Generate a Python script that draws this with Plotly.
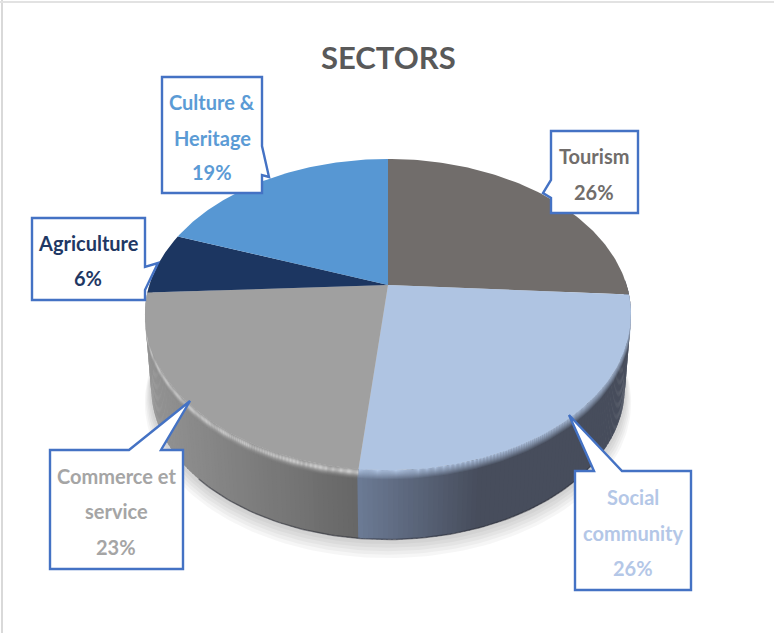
import numpy as np
import plotly.graph_objects as go

# Data
categories = ["Tourism", "Social community", "Commerce et service", "Agriculture", "Culture & Heritage"]
shares = [26.0, 25.6, 22.6, 6.4, 19.4]
top_colors = ["#716D6B", "#AFC4E2", "#A0A0A0", "#1C3661", "#5797D3"]
label_colors = ["#716D6B", "#B4C7E7", "#A5A5A5", "#1F3864", "#5B9BD5"]
label_lines = [["Tourism"], ["Social", "community"], ["Commerce et", "service"], ["Agriculture"], ["Culture &", "Heritage"]]
title_text = "SECTORS"

# Perspective disc geometry (screen pixels)
CX, CY, A, B, K = 388.0, 285.0, 150.0, 238.6, 0.19
DEPTH, BOTTOM_SCALE = 75.0, 0.975
FONT = "Lato"


def proj(deg, scale=1.0, dy=0.0):
    t = np.radians(np.asarray(deg, dtype=float))
    x, y = scale * np.sin(t), scale * np.cos(t)
    w = 1 + K * y
    return CX + B * x / w, CY - A * y / w + dy


def mix(c1, c2, f):
    f = float(np.clip(f, 0, 1))
    a = [int(c1[i:i + 2], 16) for i in (1, 3, 5)]
    b = [int(c2[i:i + 2], 16) for i in (1, 3, 5)]
    return "rgb(%d,%d,%d)" % tuple(round(p + (q - p) * f) for p, q in zip(a, b))


def wall_color(x, social):
    if social:
        return mix("#6B7A94", "#474D5C", (358 - x) / -120)
    return mix("#666666", "#929292", (358 - x) / 205)


edges = np.cumsum([0.0] + shares) / sum(shares) * 360.0
fig = go.Figure()


def poly(xs, ys, color, name=None, hover=False):
    fig.add_trace(go.Scatter(x=xs, y=ys, mode="lines", fill="toself", fillcolor=color,
                             line=dict(width=0, color=color), showlegend=False,
                             name=name or "", hoverinfo="name" if hover else "skip"))


# soft shadow
ring = np.linspace(0, 360, 241)
for off in (16, 13, 10, 7, 4):
    sx, sy = proj(ring, BOTTOM_SCALE + off * 0.0016, DEPTH + off * 0.8)
    poly(sx, sy, "rgba(0,0,0,0.034)")

# side wall, in thin strips so it shades from left to right
wall_angles = np.arange(88, 272, 1.0)
for a0 in wall_angles:
    tt = np.array([a0, a0 + 1.4])
    x1, y1 = proj(tt, 1.0, 0)
    x2, y2 = proj(tt, BOTTOM_SCALE, DEPTH)
    is_social = a0 < edges[2]
    poly(np.r_[x1, x2[::-1]], np.r_[y1, y2[::-1]], wall_color(x1.mean(), is_social))

# dark lower edge of the wall
tt = np.linspace(125, 225, 100)
xb, yb = proj(tt, BOTTOM_SCALE, DEPTH)
fig.add_trace(go.Scatter(x=xb, y=yb, mode="lines", line=dict(width=1.5, color="rgba(40,42,52,0.5)"),
                         showlegend=False, hoverinfo="skip"))


# bevel along the front of the rim, as bands of translucent colour
def band(tt, d0, d1, color):
    x0, y0 = proj(tt, 1.0, d0)
    x1, y1 = proj(tt, 1.0, d1)
    poly(np.r_[x0, x1[::-1]], np.r_[y0, y1[::-1]], color)


tt_social = np.linspace(edges[1], edges[2], 80)
for d in range(0, 9):
    band(tt_social, d, d + 1.0, "rgba(175,196,226,%.3f)" % (1 - d / 9.0))

tt_comm = np.linspace(edges[2], edges[3], 80)
commerce_bands = [(0, "rgba(168,168,168,1)"), (1, "rgba(184,184,184,1)"), (2, "rgba(198,198,198,1)"),
                  (3, "rgba(203,203,203,1)"), (4, "rgba(198,198,198,0.9)"), (5, "rgba(185,185,185,0.75)"),
                  (6, "rgba(170,170,170,0.6)"), (7, "rgba(160,160,160,0.42)"), (8, "rgba(150,150,150,0.25)"),
                  (9, "rgba(140,140,140,0.12)")]
for d, c in commerce_bands:
    band(tt_comm, d, d + 1.0, c)

# top face slices
for i, cat in enumerate(categories):
    tt = np.linspace(edges[i], edges[i + 1], 90)
    xr, yr = proj(tt)
    cx0, cy0 = proj(0, 0)
    poly(np.r_[cx0, xr, cx0], np.r_[cy0, yr, cy0], top_colors[i], name=cat, hover=True)

# callouts: box corners plus tail
callouts = [
    dict(box=(551, 131, 638, 213), tail=[(551, 180), (543, 193), (551, 198)], lines_y=[156, 192], cx=594),
    dict(box=(575, 471, 691, 590), tail=[(594, 471), (569, 415), (622, 471)], lines_y=[497, 533, 568], cx=633),
    dict(box=(50, 450, 183, 569), tail=[(129, 450), (190, 401), (161, 450)], lines_y=[476, 511, 547], cx=116),
    dict(box=(32, 218, 145, 300), tail=[(145, 267), (158, 263), (145, 290)], lines_y=[243, 278], cx=88),
    dict(box=(162, 77, 262, 193), tail=[(262, 146), (269, 177), (262, 175)], lines_y=[102, 138, 172], cx=212),
]
shapes = [
    dict(type="line", xref="x", yref="y", x0=2, x1=2, y0=0, y1=633, line=dict(color="#D9D9D9", width=2)),
    dict(type="line", xref="x", yref="y", x0=0, x1=774, y0=2, y1=2, line=dict(color="#E2E2E2", width=2)),
]
annotations = [dict(x=388, y=57, xref="x", yref="y", text="<b>%s</b>" % title_text, showarrow=False,
                    font=dict(family=FONT, size=31, color="#595959"))]
for i, c in enumerate(callouts):
    x0, y0, x1, y1 = c["box"]
    t = c["tail"]
    if t[0][1] == y0:          # tail on top edge
        pts = [(x0, y0), t[0], t[1], t[2], (x1, y0), (x1, y1), (x0, y1)]
    elif t[0][0] == x1:        # tail on right edge
        pts = [(x0, y0), (x1, y0), t[0], t[1], t[2], (x1, y1), (x0, y1)]
    else:                      # tail on left edge
        pts = [(x0, y0), (x1, y0), (x1, y1), (x0, y1), t[2], t[1], t[0]]
    path = "M " + " L ".join("%g,%g" % p for p in pts) + " Z"
    shapes.append(dict(type="path", path=path, xref="x", yref="y", fillcolor="white",
                       line=dict(color="#4472C4", width=2.4), layer="above"))
    texts = label_lines[i] + ["%d%%" % round(shares[i])]
    for line, y in zip(texts, c["lines_y"]):
        annotations.append(dict(x=c["cx"], y=y, xref="x", yref="y", text="<b>%s</b>" % line,
                                showarrow=False, font=dict(family=FONT, size=20, color=label_colors[i])))

fig.update_layout(
    width=774, height=633, margin=dict(l=0, r=0, t=0, b=0),
    paper_bgcolor="white", plot_bgcolor="white", showlegend=False,
    xaxis=dict(range=[0, 774], visible=False, fixedrange=True),
    yaxis=dict(range=[633, 0], visible=False, fixedrange=True),
    shapes=shapes, annotations=annotations,
)
fig.write_html("out.html", config=dict(displayModeBar=False),
               post_script="document.body.style.margin='0';document.body.style.overflow='hidden';")
